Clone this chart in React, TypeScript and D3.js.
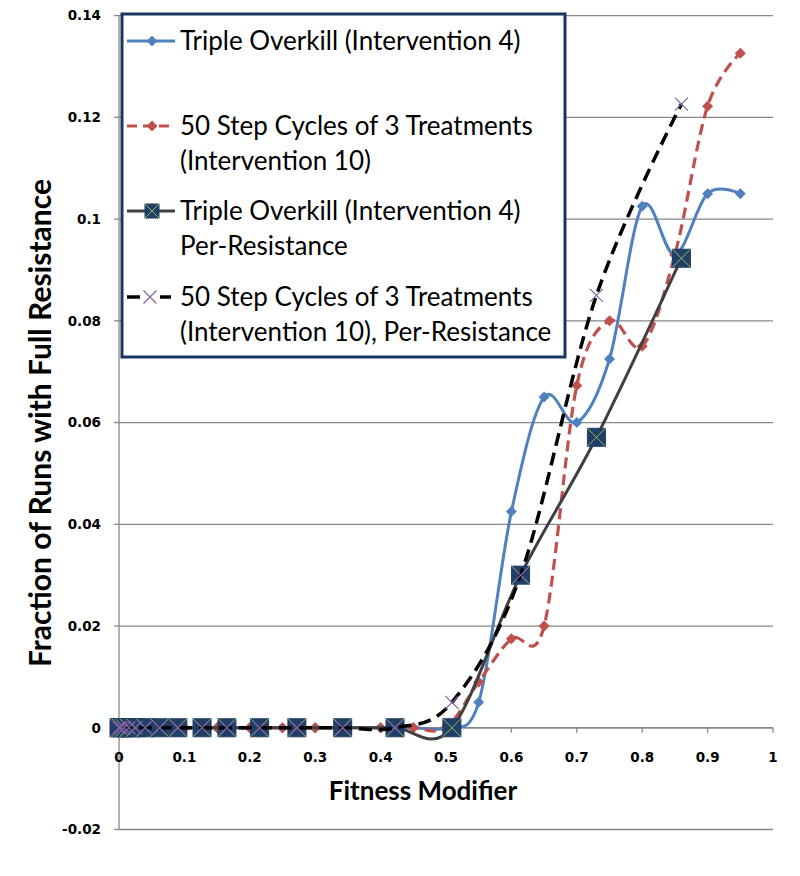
import React from "react";
import * as d3 from "d3";

const W = 800;
const H = 876;

// Fitness grid for the first two series
const fitness = [0, 0.05, 0.1, 0.15, 0.2, 0.25, 0.3, 0.35, 0.4, 0.45, 0.5, 0.55, 0.6, 0.65, 0.7, 0.75, 0.8, 0.85, 0.9, 0.95];
const tripleOverkill = [0, 0, 0, 0, 0, 0, 0, 0, 0, 0, 0, 0.005, 0.0425, 0.065, 0.06, 0.0725, 0.1025, 0.093, 0.105, 0.105];
const cycles50 = [0, 0, 0, 0, 0, 0, 0, 0, 0, 0, 0, 0.009, 0.0175, 0.02, 0.0673, 0.08, 0.075, 0.093, 0.1222, 0.1326];

// Per-resistance fitness grid
const perResX = [0, 0.003, 0.008, 0.015, 0.025, 0.04, 0.062, 0.09, 0.127, 0.165, 0.215, 0.272, 0.342, 0.422, 0.509, 0.614, 0.73, 0.86];
const tripleOverkillPerRes = [0, 0, 0, 0, 0, 0, 0, 0, 0, 0, 0, 0, 0, 0, 0, 0.03, 0.0571, 0.0923];
const cycles50PerRes = [0, 0, 0, 0, 0, 0, 0, 0, 0, 0, 0, 0, 0, 0, 0.005, 0.03, 0.085, 0.1226];

const xTicks = [0, 0.1, 0.2, 0.3, 0.4, 0.5, 0.6, 0.7, 0.8, 0.9, 1];
const yTicks = [-0.02, 0, 0.02, 0.04, 0.06, 0.08, 0.1, 0.12, 0.14];
const xTickLabels = ["0", "0.1", "0.2", "0.3", "0.4", "0.5", "0.6", "0.7", "0.8", "0.9", "1"];
const yTickLabels = ["-0.02", "0", "0.02", "0.04", "0.06", "0.08", "0.1", "0.12", "0.14"];

const legendLabels = [
  ["Triple Overkill (Intervention 4)"],
  ["50 Step Cycles of 3 Treatments", "(Intervention 10)"],
  ["Triple Overkill (Intervention 4)", "Per-Resistance"],
  ["50 Step Cycles of 3 Treatments", "(Intervention 10), Per-Resistance"],
];

const BLUE = "#4F81BD";
const RED = "#C0504D";
const NAVY = "#1F3F66";
const GREEN = "#9BBB59";
const PURPLE = "#8064A2";
const GRAY = "#404040";

const x = d3.scaleLinear().domain([0, 1]).range([119, 773]);
const y = d3.scaleLinear().domain([-0.02, 0.14]).range([829.5, 15.6]);

type P = [number, number];
const zip = (xs: number[], ys: number[]): P[] => xs.map((v, i) => [v, ys[i]]);

const line = d3
  .line<P>()
  .x((d) => x(d[0]))
  .y((d) => y(d[1]))
  .curve(d3.curveCardinal.tension(0));

function Diamond({ cx, cy, r, fill }: { cx: number; cy: number; r: number; fill: string }) {
  return <path d={`M${cx},${cy - r}L${cx + r},${cy}L${cx},${cy + r}L${cx - r},${cy}Z`} fill={fill} />;
}
function SquareX({ cx, cy, s = 9 }: { cx: number; cy: number; s?: number }) {
  return (
    <g>
      <rect x={cx - s} y={cy - s} width={2 * s} height={2 * s} fill={NAVY} stroke={NAVY} strokeWidth={1} />
      <path d={`M${cx - s},${cy - s}L${cx + s},${cy + s}M${cx + s},${cy - s}L${cx - s},${cy + s}`} stroke={GREEN} strokeWidth={1} />
    </g>
  );
}
function Cross({ cx, cy }: { cx: number; cy: number }) {
  const s = 6.5;
  return (
    <path d={`M${cx - s},${cy - s}L${cx + s},${cy + s}M${cx + s},${cy - s}L${cx - s},${cy + s}`} stroke={PURPLE} strokeWidth={1.2} fill="none" />
  );
}

export default function App() {
  const blue = zip(fitness, tripleOverkill);
  const red = zip(fitness, cycles50);
  const sq = zip(perResX, tripleOverkillPerRes);
  const blk = zip(perResX, cycles50PerRes);
  const x0 = x(0);
  const y0 = y(0);
  const tickFont = "'DejaVu Sans', Verdana, sans-serif";
  const textFont = "Lato, 'Open Sans', sans-serif";

  const legX = 122;
  const legY = 14;
  const legW = 443;
  const legH = 343;
  const rows = [41, 126, 211, 297];
  const lineH = 35;

  return (
    <svg width={W} height={H} style={{ position: "absolute", left: 0, top: 0, background: "#fff" }}>
      <rect x={0} y={0} width={W} height={H} fill="#fff" />
      {/* gridlines */}
      {yTicks.map((t) => (
        <line key={t} x1={x0} x2={x(1)} y1={y(t)} y2={y(t)} stroke="#878787" strokeWidth={1.3} />
      ))}
      {/* y axis */}
      <line x1={x0} x2={x0} y1={y(0.14)} y2={y(-0.02)} stroke="#878787" strokeWidth={1.3} />
      {yTicks.map((t) => (
        <line key={"yt" + t} x1={x0 - 5} x2={x0} y1={y(t)} y2={y(t)} stroke="#878787" strokeWidth={1.3} />
      ))}
      {/* x axis at 0 */}
      <line x1={x0} x2={x(1)} y1={y0} y2={y0} stroke="#878787" strokeWidth={1.3} />
      {xTicks.map((t) => (
        <line key={"xt" + t} x1={x(t)} x2={x(t)} y1={y0} y2={y0 + 5} stroke="#878787" strokeWidth={1.3} />
      ))}
      {/* tick labels */}
      {yTicks.map((t, i) => (
        <text key={"yl" + t} x={101} y={y(t)} dy="0.36em" textAnchor="end" fontFamily={tickFont} fontWeight="bold" fontSize={13.5} fill="#000">
          {yTickLabels[i]}
        </text>
      ))}
      {xTicks.map((t, i) => (
        <text key={"xl" + t} x={x(t)} y={757} dy="0.36em" textAnchor="middle" fontFamily={tickFont} fontWeight="bold" fontSize={13.5} fill="#000">
          {xTickLabels[i]}
        </text>
      ))}
      {/* axis titles */}
      <text x={423} y={791} dy="0.36em" textAnchor="middle" fontFamily={textFont} fontWeight="bold" fontSize={26} fill="#000">
        Fitness Modifier
      </text>
      <text
        transform={`translate(40,423) rotate(-90)`}
        dy="0.36em"
        textAnchor="middle"
        fontFamily={textFont}
        fontWeight="bold"
        fontSize={30}
        fill="#000"
      >
        Fraction of Runs with Full Resistance
      </text>

      {/* series 1: blue */}
      <path d={line(blue) || ""} fill="none" stroke={BLUE} strokeWidth={3} />
      {blue.map((d, i) => (
        <Diamond key={"b" + i} cx={x(d[0])} cy={y(d[1])} r={5.5} fill={BLUE} />
      ))}
      {/* series 2: red dashed */}
      <path d={line(red) || ""} fill="none" stroke={RED} strokeWidth={3.2} strokeDasharray="11 6" />
      {red.map((d, i) => (
        <Diamond key={"r" + i} cx={x(d[0])} cy={y(d[1])} r={5.5} fill={RED} />
      ))}
      {/* series 3: gray with squares */}
      <path d={line(sq) || ""} fill="none" stroke={GRAY} strokeWidth={3} />
      {sq.map((d, i) => (
        <SquareX key={"s" + i} cx={x(d[0])} cy={y(d[1])} />
      ))}
      {/* series 4: black dashed with crosses */}
      <path d={line(blk) || ""} fill="none" stroke="#000" strokeWidth={3.5} strokeDasharray="13 7" />
      {blk.map((d, i) => (
        <Cross key={"k" + i} cx={x(d[0])} cy={y(d[1])} />
      ))}

      {/* legend */}
      <rect x={legX} y={legY} width={legW} height={legH} fill="#fff" stroke="#17375E" strokeWidth={3} />
      <line x1={127} x2={175} y1={rows[0]} y2={rows[0]} stroke={BLUE} strokeWidth={3} />
      <Diamond cx={152} cy={rows[0]} r={5.5} fill={BLUE} />
      <line x1={127} x2={171} y1={rows[1]} y2={rows[1]} stroke={RED} strokeWidth={3} strokeDasharray="10 6" />
      <Diamond cx={152} cy={rows[1]} r={5.5} fill={RED} />
      <line x1={127} x2={175} y1={rows[2]} y2={rows[2]} stroke={GRAY} strokeWidth={3} />
      <SquareX cx={152} cy={rows[2]} s={7} />
      <line x1={127} x2={140} y1={rows[3]} y2={rows[3]} stroke="#000" strokeWidth={3.5} />
      <line x1={160} x2={171} y1={rows[3]} y2={rows[3]} stroke="#000" strokeWidth={3.5} />
      <Cross cx={150} cy={rows[3]} />
      {legendLabels.map((lines, i) =>
        lines.map((t, j) => (
          <text key={"lg" + i + j} x={180} y={rows[i] + j * lineH} dy="0.35em" fontFamily={textFont} fontSize={26} fill="#000">
            {t}
          </text>
        ))
      )}
    </svg>
  );
}
